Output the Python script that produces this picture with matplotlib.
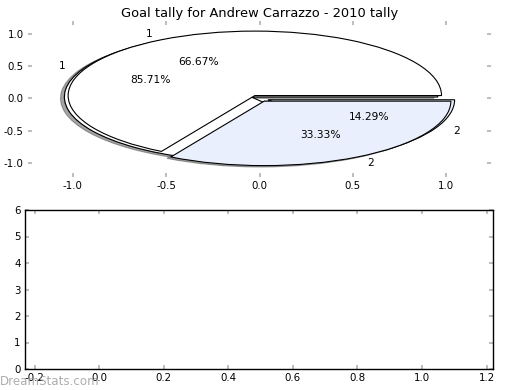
import matplotlib
matplotlib.use('Agg')
import matplotlib.pyplot as plt

plt.rcParams['axes.unicode_minus'] = False

# goals per category for the two pies
labels = ['1', '2']
tally_a = [2, 1]
tally_b = [6, 1]
pie_colors = ['white', '#e9effc']
explode = [0.05, 0.05]

title = 'Goal tally for Andrew Carrazzo - 2010 tally'

fig = plt.figure(figsize=(5.2, 3.9), dpi=100)
pie_ax = fig.add_axes([28/520, 213/390, 463/520, 156/390])
bar_ax = fig.add_axes([25/520, 21/390, 468/520, 159/390])

# shadow offsets are data units scaled by dpi/72
shadow = {'ox': -0.015, 'oy': -0.015, 'shade': 0.7}
txt = {'fontsize': 7.7}

pie_ax.pie(tally_b, labels=labels, colors=pie_colors, explode=explode,
           autopct='%.2f%%', shadow=shadow, frame=True,
           wedgeprops={'edgecolor': 'black', 'linewidth': 0.8}, textprops=txt)
pie_ax.pie(tally_a, labels=labels, colors=pie_colors, explode=explode,
           autopct='%.2f%%', shadow=shadow, frame=True,
           wedgeprops={'edgecolor': 'black', 'linewidth': 0.8}, textprops=txt)
pie_ax.set_aspect('auto')
pie_ax.set_xlim(-1.24, 1.24)
pie_ax.set_ylim(-1.22, 1.2)
pie_ax.set_xticks([-1.0, -0.5, 0.0, 0.5, 1.0])
pie_ax.set_yticks([-1.0, -0.5, 0.0, 0.5, 1.0])
for s in pie_ax.spines.values():
    s.set_visible(False)
pie_ax.set_title(title, fontsize=9.4, pad=3)

bar_ax.set_xlim(-0.23, 1.22)
bar_ax.set_ylim(0, 6)
bar_ax.set_xticks([-0.2, 0.0, 0.2, 0.4, 0.6, 0.8, 1.0, 1.2])
bar_ax.set_yticks(range(0, 7))
for s in bar_ax.spines.values():
    s.set_linewidth(1.0)

for ax in (pie_ax, bar_ax):
    ax.tick_params(direction='in', length=3, width=1.3, color='#b8b8b8',
                   labelsize=7.4, top=True, right=True, pad=3)

fig.text(0.0, 0.012, 'DreamStats.com', fontsize=8.6, color='#999999', alpha=0.8)

fig.savefig('out.png', dpi=100)
